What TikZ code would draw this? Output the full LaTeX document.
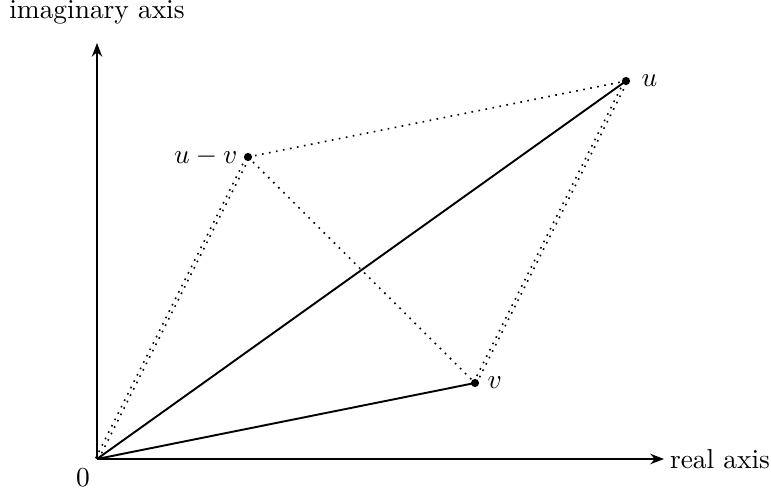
\documentclass[tikz,border=0pt]{standalone}
\usetikzlibrary{arrows.meta,calc}
\begin{document}
\begin{tikzpicture}[x=0.365pt,y=-0.365pt,
  axis/.style={-{Stealth[length=5pt,width=3.8pt]},line width=0.45pt},
  pt/.style={circle,fill,inner sep=0pt,minimum size=3pt},
  vec/.style={line width=0.7pt},
  thindot/.style={dotted,line width=0.6pt},
  dbl/.style={dotted,line width=0.6pt}]
\useasboundingbox (0,0) rectangle (771,489);
\coordinate (O) at (97,459);
\coordinate (ytop) at (97,43);
\coordinate (xend) at (664,459);
\draw[axis] (O) -- (ytop);
\draw[axis] (O) -- (xend);
\node[anchor=south] (ilab) at (97,34) {imaginary axis};
\node[anchor=west,inner sep=2pt] (rlab) at (xend) {real axis};
\node (zero) at (83,478) {$0$};
\coordinate (u) at (626,81);
\coordinate (v) at (475,383);
\coordinate (w) at (248,157);
\draw[vec] (O) -- (u);
\draw[vec] (O) -- (v);
\draw[thindot] (w) -- (u);
\draw[thindot] (w) -- (v);
\draw[dbl] ($(O)!0.55pt!90:(w)$) -- ($(w)!0.55pt!-90:(O)$);
\draw[dbl] ($(O)!0.55pt!-90:(w)$) -- ($(w)!0.55pt!90:(O)$);
\draw[dbl] ($(v)!0.55pt!90:(u)$) -- ($(u)!0.55pt!-90:(v)$);
\draw[dbl] ($(v)!0.55pt!-90:(u)$) -- ($(u)!0.55pt!90:(v)$);
\node[pt] (ud) at (u) {};
\node[pt] (vd) at (v) {};
\node[pt] (wd) at (w) {};
\node[anchor=west,inner sep=0pt] (ul) at (641,81) {$u$};
\node[anchor=west,inner sep=0pt] (vl) at (487,383) {$v$};
\node[anchor=east,inner sep=0pt] (wl) at (238,157) {$u-v$};
\end{tikzpicture}
\end{document}
